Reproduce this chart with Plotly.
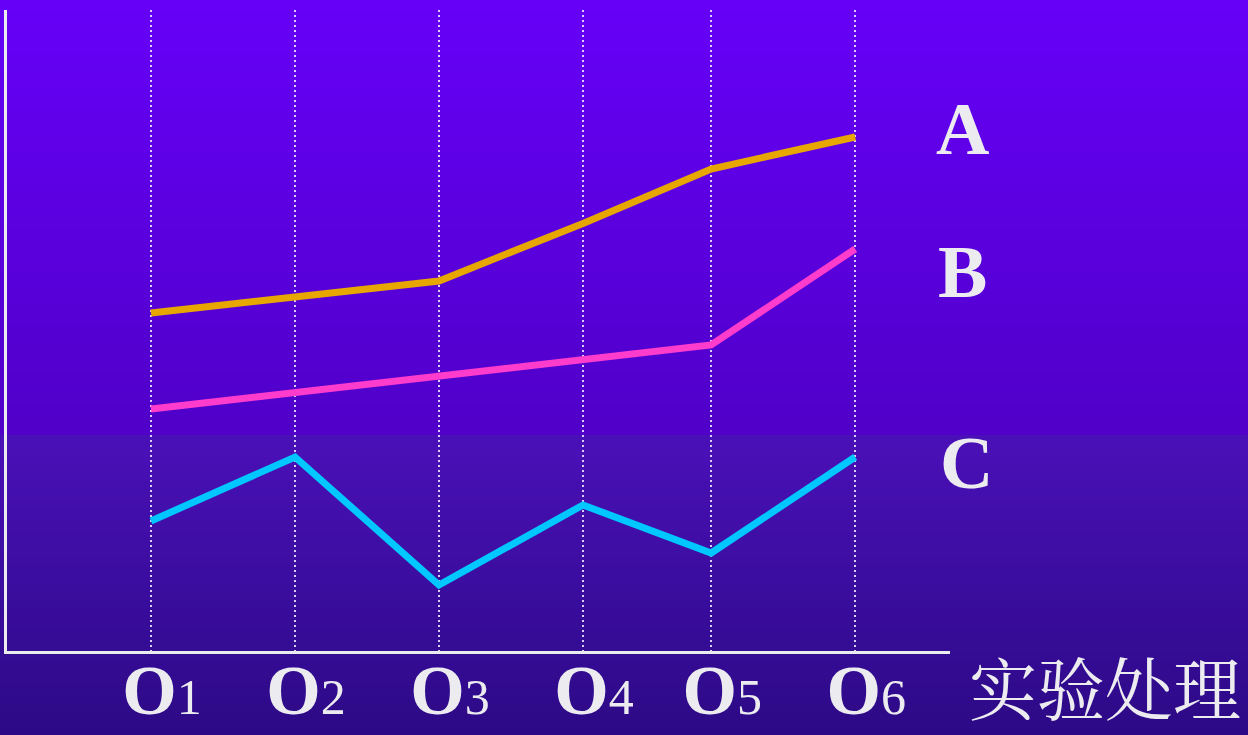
import plotly.graph_objects as go

# ---- data -------------------------------------------------------------
categories = ["O1", "O2", "O3", "O4", "O5", "O6"]
x_positions = [1.0, 2.0, 3.0, 4.0, 4.89, 5.89]   # treatment slots on the x axis
series_names = ["A", "B", "C"]
values_a = [5.25, 5.5, 5.75, 6.65, 7.5, 8.0]
values_b = [3.75, 4.0, 4.25, 4.5, 4.75, 6.25]
values_c = [2.0, 3.0, 1.0, 2.25, 1.5, 3.0]
axis_title = "实验处理"

# ---- styling ----------------------------------------------------------
W, H = 1248, 735
ML, MR, MT, MB = 7, 298, 10, 84
PW, PH = W - ML - MR, H - MT - MB
TEXT = "#ececf0"
line_colors = ["#e8a600", "#ff3ccc", "#00c8ff"]
label_font = "Liberation Serif, Times New Roman, serif"

fig = go.Figure()
for name, vals, col in zip(series_names, [values_a, values_b, values_c], line_colors):
    fig.add_trace(go.Scatter(
        x=x_positions, y=vals, name=name, mode="lines",
        line=dict(color=col, width=7), hoverinfo="skip", showlegend=False,
    ))

# background: vertical purple gradient with a soft step in the lower half
def lerp(c1, c2, t):
    return tuple(round(a + (b - a) * t) for a, b in zip(c1, c2))

def px_y(p):
    return (H - MB - p) / PH

def px_x(p):
    return (p - ML) / PW

shapes = []
bands = [((0, 435), (102, 0, 248), (80, 0, 200)),
         ((435, H), (74, 16, 184), (44, 10, 134))]
for (p0, p1), c_top, c_bot in bands:
    n = 40
    step = (p1 - p0) / n
    for i in range(n):
        a = p0 + i * step
        b = min(a + step + 0.8, p1 + 0.8)
        r, g, bl = lerp(c_top, c_bot, (i + 0.5) / n)
        shapes.append(dict(
            type="rect", xref="paper", yref="paper", layer="below",
            x0=px_x(-2), x1=px_x(W + 2), y0=px_y(b), y1=px_y(a),
            line=dict(width=0), fillcolor=f"rgb({r},{g},{bl})",
        ))

# tick labels: bold capital O with a plain digit beside it
ticktext = [f"<b>{c[0]}</b><span style='font-size:50px;font-weight:normal'>{c[1:]}</span>"
            for c in categories]

# series names at the right end of the lines (pixel anchors)
label_px = {"A": (962, 129), "B": (962, 272), "C": (966, 463)}
annotations = []
for name in series_names:
    lx, ly = label_px[name]
    annotations.append(dict(
        x=px_x(lx), y=px_y(ly), xref="paper", yref="paper",
        text=f"<b>{name}</b>", showarrow=False,
        font=dict(family=label_font, size=74, color=TEXT),
        xanchor="center", yanchor="middle",
    ))
annotations.append(dict(
    x=px_x(1243), y=px_y(686), xref="paper", yref="paper",
    text=axis_title, showarrow=False, xanchor="right", yanchor="middle",
    font=dict(family="Noto Serif CJK SC, Noto Sans CJK SC, serif", size=68, color=TEXT),
))

fig.update_layout(
    width=W, height=H,
    margin=dict(l=ML, r=MR, t=MT, b=MB, pad=0, autoexpand=False),
    paper_bgcolor="#2c0a84", plot_bgcolor="rgba(0,0,0,0)",
    shapes=shapes, annotations=annotations, showlegend=False,
    xaxis=dict(
        range=[0, 6.5486], tickvals=x_positions, ticktext=ticktext,
        showgrid=True, gridcolor="rgba(235,228,255,0.9)", gridwidth=2, griddash="2px,3px",
        showline=True, linecolor=TEXT, linewidth=3, zeroline=False,
        ticks="", ticklabelshift=11, ticklabelstandoff=-24, automargin=False,
        tickfont=dict(family=label_font, size=70, color=TEXT),
        fixedrange=True,
    ),
    yaxis=dict(
        range=[-0.03125, 9.984], showgrid=False, zeroline=False,
        showline=True, linecolor=TEXT, linewidth=3, showticklabels=False,
        automargin=False, fixedrange=True,
    ),
)

fig.write_html("out.html")
